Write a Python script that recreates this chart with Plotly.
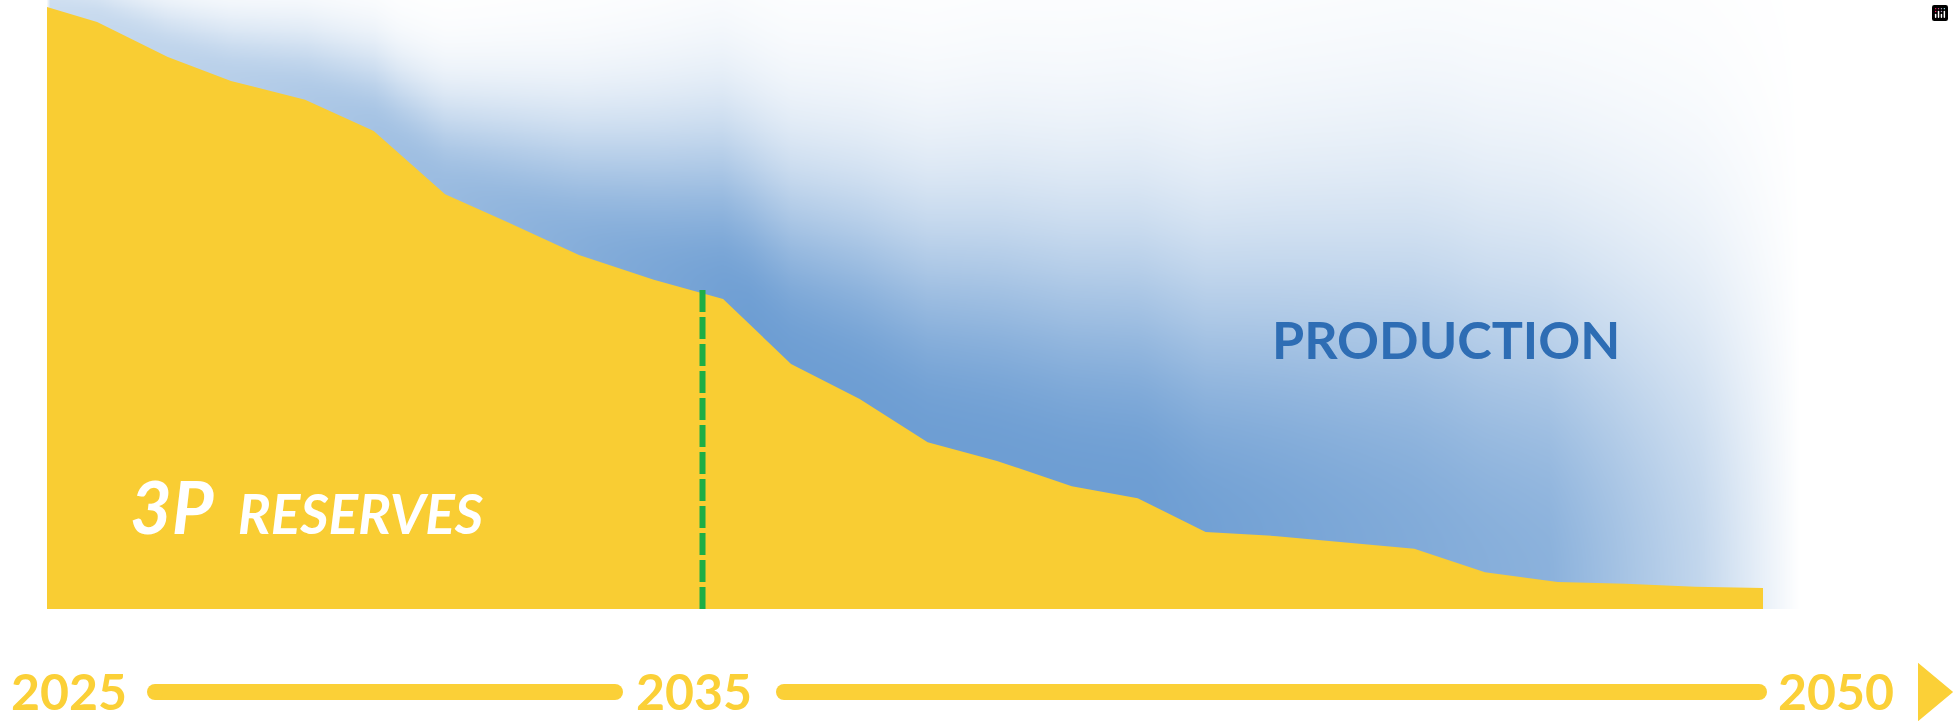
import numpy as np
import plotly.graph_objects as go

# ---------------- data ----------------
# x positions (in years) of the reserves profile
x_years = [2025.00, 2025.73, 2026.76, 2027.68, 2028.76, 2029.76, 2030.80, 2031.76,
           2032.75, 2033.84, 2034.85, 2035.84, 2036.84, 2037.83, 2038.84, 2039.93,
           2040.89, 2041.88, 2042.92, 2043.92, 2044.92, 2045.95, 2047.01, 2048.00,
           2049.01, 2050.00]
reserves = [100, 97.5, 91.7, 87.7, 84.6, 79.4, 68.9, 64.0, 58.8, 54.7, 51.5,
            40.7, 34.9, 27.7, 24.6, 20.4, 18.4, 12.8, 12.1, 11.0, 10.0,
            6.1, 4.5, 4.2, 3.7, 3.5]
timeline_labels = ["2025", "2035", "2050"]
cutoff_year = 2034.55
area_label_big = "3P"
area_label_small = "RESERVES"
production_label = "PRODUCTION"

# ---------------- geometry ----------------
W, H = 1954, 721
X0_PX, X1_PX = 47, 1763          # pixel of 2025 / 2050
Y0_PX, YTOP_PX = 609, 7          # pixel of value 0 / value 100
ppx = (X1_PX - X0_PX) / (x_years[-1] - x_years[0])
ppy = (Y0_PX - YTOP_PX) / 100.0
x_range = [x_years[0] - X0_PX / ppx, x_years[0] + (W - X0_PX) / ppx]
y_range = [-(H - Y0_PX) / ppy, 100 + YTOP_PX / ppy]

def px(x):
    return x / W

def py(y):
    return 1 - y / H

YELLOW = "#F9CD33"
TL_YELLOW = "#FBD037"
BLUE_TXT = "#2E6DB4"
FONT = "Lato"

# ---------------- blue gradient background (style only) ----------------
gx = np.linspace(x_range[0], 2052.2, 420)
gy = np.linspace(0, y_range[1], 220)
curve = np.interp(gx, x_years, reserves, left=reserves[0], right=reserves[-1])
xpx = X0_PX + (gx - x_years[0]) * ppx
w = np.interp(xpx, [X0_PX, 400, 700, 1000, 1450, 1800], [35, 85, 170, 250, 330, 340])
A = np.interp(xpx, [X0_PX, 300, 600, 750, 1150, 1550, 1700, 1800],
              [0.35, 0.55, 0.86, 1.0, 1.0, 0.8, 0.42, 0.0])
A[gx < x_years[0]] = 0
GX, GY = np.meshgrid(gx, gy)
d = (GY - curve[None, :]) * ppy
d = np.clip(d, 0, None)
Z = A[None, :] * np.exp(-(d / w[None, :]) ** 2.1)

fig = go.Figure()
fig.add_trace(go.Heatmap(
    x=gx, y=gy, z=Z, zmin=0, zmax=1, zsmooth="best", showscale=False,
    colorscale=[[0, "rgb(255,255,255)"], [1, "rgb(110,158,211)"]],
    hoverinfo="skip"))

fig.add_trace(go.Scatter(
    x=x_years, y=reserves, mode="lines", fill="tozeroy",
    fillcolor=YELLOW, line=dict(width=0, color=YELLOW), hoverinfo="skip"))

cut_val = float(np.interp(cutoff_year, x_years, reserves))
fig.add_trace(go.Scatter(
    x=[cutoff_year, cutoff_year], y=[0, cut_val + 0.8], mode="lines",
    line=dict(color="#1DAE45", width=6, dash="22px,5px"), hoverinfo="skip"))

# ---------------- timeline ----------------
shapes = [dict(type="rect", xref="paper", yref="y", x0=0, x1=1, y0=y_range[0], y1=0,
               fillcolor="white", line=dict(width=0), layer="above")]

def bar(xa, xb, yc, t):
    r = t / 2
    shapes.append(dict(type="rect", xref="paper", yref="paper",
                       x0=px(xa + r), x1=px(xb - r), y0=py(yc + r), y1=py(yc - r),
                       fillcolor=TL_YELLOW, line=dict(width=0), layer="above"))
    for cx in (xa + r, xb - r):
        shapes.append(dict(type="circle", xref="paper", yref="paper",
                           x0=px(cx - r), x1=px(cx + r), y0=py(yc + r), y1=py(yc - r),
                           fillcolor=TL_YELLOW, line=dict(width=0), layer="above"))

bar(147, 623, 692, 16)
bar(776, 1767, 692, 16)

# arrow head
ax0, ax1, ay0, ay1 = 1920, 1950, 667, 717
aym = (ay0 + ay1) / 2
arrow = f"M {px(ax0)},{py(ay0)} L {px(ax1)},{py(aym)} L {px(ax0)},{py(ay1)} Z"
shapes.append(dict(type="path", xref="paper", yref="paper", path=arrow,
                   fillcolor=TL_YELLOW, line=dict(color=TL_YELLOW, width=4), layer="above"))

annotations = []
for lab, cx in zip(timeline_labels, [69, 694, 1836]):
    annotations.append(dict(text=f"<b>{lab}</b>", x=px(cx), y=py(691), xref="paper", yref="paper",
                            xanchor="center", yanchor="middle", showarrow=False,
                            font=dict(family=FONT, size=50, color=TL_YELLOW)))

annotations.append(dict(text=f"<b>{production_label}</b>", x=px(1446), y=py(339),
                        xref="paper", yref="paper", xanchor="center", yanchor="middle",
                        showarrow=False,
                        font=dict(family=FONT, size=52, color=BLUE_TXT)))

annotations.append(dict(
    text=f"<b><i><span style='font-size:72px'>{area_label_big}</span>&nbsp; {area_label_small}</i></b>",
    x=px(128), y=py(551), xref="paper", yref="paper", xanchor="left", yanchor="bottom",
    showarrow=False, font=dict(family=FONT, size=55, color="white")))

fig.update_layout(
    width=W, height=H, margin=dict(l=0, r=0, t=0, b=0),
    paper_bgcolor="white", plot_bgcolor="white", showlegend=False,
    xaxis=dict(range=x_range, visible=False, fixedrange=True),
    yaxis=dict(range=y_range, visible=False, fixedrange=True),
    modebar=dict(bgcolor="rgba(0,0,0,0)", color="rgba(0,0,0,0)", activecolor="rgba(0,0,0,0)"),
    shapes=shapes, annotations=annotations)

fig.write_html("out.html",
               post_script="document.body.style.margin='0';document.body.style.overflow='hidden';")
